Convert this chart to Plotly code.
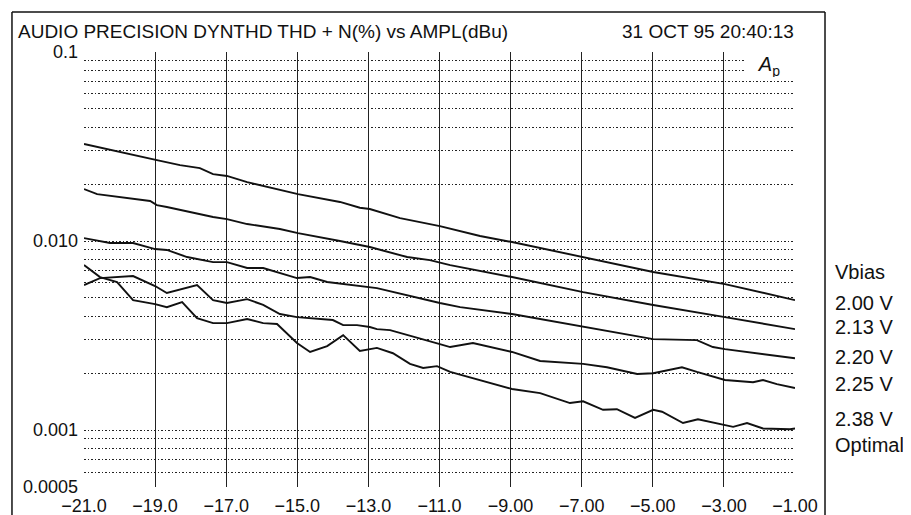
import plotly.graph_objects as go

# THD+N (%) vs amplitude (dBu)
x_200 = [-21.0, -20.75, -18.95, -18.3, -17.74, -17.37, -16.98, -16.41, -15.49, -14.98,
         -13.8, -13.24, -12.96, -12.76, -12.11, -10.99, -9.86, -8.96, -6.96, -4.99,
         -2.97, -1.9, -1.0]
y_200 = [0.0326, 0.0318, 0.0268, 0.0252, 0.0243, 0.0226, 0.0221, 0.0205, 0.0186, 0.0177,
         0.0161, 0.0150, 0.01477, 0.0144, 0.01323, 0.0120, 0.01063, 0.00988, 0.00823, 0.00686,
         0.00592, 0.00531, 0.00487]

x_213 = [-21.0, -20.63, -19.14, -18.95, -18.67, -17.37, -16.98, -16.41, -15.49, -14.98,
         -13.8, -12.96, -11.91, -11.27, -10.7, -8.96, -6.96, -4.99, -2.97, -1.0]
y_213 = [0.01884, 0.0177, 0.01628, 0.0155, 0.01513, 0.0134, 0.01307, 0.0123, 0.01158, 0.01102,
         0.0100, 0.0093, 0.00823, 0.00793, 0.00746, 0.00645, 0.00537, 0.00459, 0.00396, 0.00342]

x_220 = [-21.0, -20.27, -19.62, -19.0, -18.67, -18.1, -17.37, -16.98, -16.41, -15.96,
         -15.01, -14.64, -14.16, -13.04, -12.76, -10.99, -10.42, -8.96, -6.96, -4.99,
         -3.76, -3.31, -2.97, -1.0]
y_220 = [0.01037, 0.00976, 0.00976, 0.00907, 0.00897, 0.00823, 0.00774, 0.00774, 0.0072, 0.0072,
         0.00637, 0.00645, 0.00607, 0.00571, 0.00564, 0.0047, 0.00447, 0.00411, 0.00351, 0.00303,
         0.00299, 0.00275, 0.00268, 0.0024]

x_225 = [-21.0, -20.55, -19.62, -19.0, -18.67, -17.82, -17.37, -16.98, -16.41, -15.96,
         -15.49, -15.01, -14.0, -13.71, -13.32, -12.96, -12.76, -12.39, -10.99, -10.7,
         -10.06, -8.96, -8.17, -6.96, -6.29, -5.44, -4.99, -4.18, -3.76, -2.97,
         -2.18, -1.9, -1.51, -1.0]
y_225 = [0.00585, 0.00637, 0.00653, 0.00578, 0.00531, 0.00585, 0.00487, 0.0047, 0.00493, 0.00459,
         0.00411, 0.00396, 0.00382, 0.00359, 0.00359, 0.00351, 0.00342, 0.00338, 0.00285, 0.00275,
         0.00289, 0.00259, 0.00232, 0.00224, 0.00215, 0.00198, 0.0020, 0.00215, 0.00203, 0.00184,
         0.00179, 0.00184, 0.00175, 0.00167]

x_238 = [-21.0, -20.55, -20.07, -19.62, -19.0, -18.67, -18.24, -17.82, -17.37, -16.98,
         -16.41, -15.96, -15.57, -15.01, -14.64, -14.16, -13.71, -13.24, -12.76, -12.31,
         -11.83, -11.46, -11.07, -10.7, -8.96, -8.17, -7.33, -6.96, -6.4, -6.01,
         -5.5, -4.99, -4.74, -4.15, -3.73, -2.97, -2.74, -2.35, -1.9, -1.14, -1.0]
y_238 = [0.00746, 0.00645, 0.00607, 0.00487, 0.00464, 0.00447, 0.00476, 0.00391, 0.00368, 0.00368,
         0.00387, 0.00368, 0.00364, 0.00289, 0.00259, 0.00278, 0.00318, 0.00262, 0.00272, 0.00255,
         0.00224, 0.00213, 0.00218, 0.00203, 0.00165, 0.00157, 0.00139, 0.00142, 0.00128, 0.00129,
         0.00116, 0.00128, 0.00125, 0.00109, 0.00114, 0.00106, 0.00104, 0.00109, 0.00102, 0.00101, 0.00102]

x_ticks = [-21, -19, -17, -15, -13, -11, -9, -7, -5, -3, -1]
x_ticktext = ['−21.0', '−19.0', '−17.0', '−15.0', '−13.0', '−11.0',
              '−9.00', '−7.00', '−5.00', '−3.00', '−1.00']
y_ticks = [0.1, 0.01, 0.001, 0.0005]
y_ticktext = ['0.1', '0.010', '0.001', '0.0005']
y_minor = [0.0006, 0.0007, 0.0008, 0.0009,
           0.002, 0.003, 0.004, 0.005, 0.006, 0.007, 0.008, 0.009,
           0.02, 0.03, 0.04, 0.05, 0.06, 0.07, 0.08, 0.09]

legend_title = 'Vbias'
legend_labels = ['2.00 V', '2.13 V', '2.20 V', '2.25 V', '2.38 V', 'Optimal']

FONT = 'Liberation Sans, Arial, sans-serif'

fig = go.Figure()
for xs, ys in [(x_200, y_200), (x_213, y_213), (x_220, y_220), (x_225, y_225), (x_238, y_238)]:
    fig.add_trace(go.Scatter(x=xs, y=ys, mode='lines',
                             line=dict(color='#111', width=1.9), showlegend=False))

# the page body adds 8px around the figure, so the figure is kept 8px smaller
fig.update_layout(
    width=903, height=507,
    margin=dict(l=76, r=116, t=44, b=28),
    paper_bgcolor='white', plot_bgcolor='white',
    font=dict(family=FONT, size=18, color='#111'),
    xaxis=dict(range=[-21, -1], tickmode='array', tickvals=x_ticks, ticktext=x_ticktext,
               showgrid=True, gridcolor='#222', gridwidth=1.2, zeroline=False, automargin=False,
               ticks='', showline=False, ticklabelstandoff=6),
    yaxis=dict(type='log', range=[-3.30103, -1], tickmode='array',
               tickvals=y_ticks, ticktext=y_ticktext, automargin=False,
               showgrid=True, gridcolor='#222', gridwidth=1.2, griddash='1.5px,2px',
               zeroline=False, ticks='', showline=False, ticklabelstandoff=5,
               minor=dict(tickmode='array', tickvals=y_minor, showgrid=True,
                          gridcolor='#222', gridwidth=1.2, griddash='1.5px,2px', ticks='')),
)

# outer frame of the printout
fig.add_shape(type='line', xref='paper', yref='paper', x0=-0.1013, x1=-0.1013, y0=1.092, y1=-0.1,
              line=dict(color='#111', width=1.5))
fig.add_shape(type='line', xref='paper', yref='paper', x0=-0.1013, x1=1.0422, y0=1.092, y1=1.092,
              line=dict(color='#111', width=1.5))
fig.add_shape(type='line', xref='paper', yref='paper', x0=1.0422, x1=1.0422, y0=1.092, y1=-0.1,
              line=dict(color='#111', width=1.5))

fig.add_annotation(text='AUDIO PRECISION DYNTHD THD + N(%) vs AMPL(dBu)', xref='paper', yref='paper',
                   x=-0.0958, y=1.048, xanchor='left', yanchor='middle', showarrow=False,
                   font=dict(size=19))
fig.add_annotation(text='31 OCT 95 20:40:13', xref='paper', yref='paper',
                   x=1.002, y=1.048, xanchor='right', yanchor='middle', showarrow=False,
                   font=dict(size=19))
fig.add_annotation(text='<i>A</i><sub>p</sub>', xref='paper', yref='paper',
                   x=0.999, y=0.997, xanchor='right', yanchor='top', showarrow=False,
                   bgcolor='white', width=46, height=22, align='center', font=dict(size=20))

label_y = [0.4943, 0.4230, 0.3678, 0.2989, 0.2368, 0.1563, 0.0966]
for txt, yy in zip([legend_title] + legend_labels, label_y):
    fig.add_annotation(text=txt, xref='paper', yref='paper', x=1.0535, y=yy,
                       xanchor='left', yanchor='middle', showarrow=False, font=dict(size=20))

fig.write_html('out.html')
